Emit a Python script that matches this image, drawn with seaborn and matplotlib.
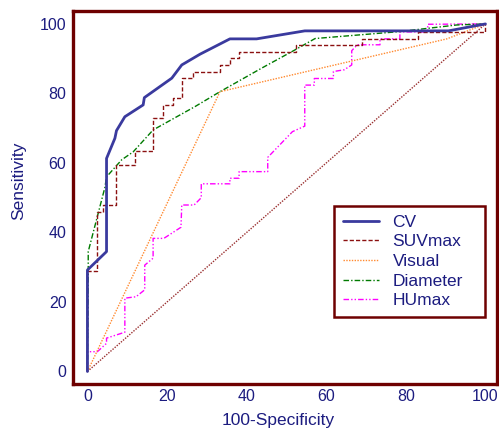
import matplotlib
matplotlib.use("Agg")
import matplotlib.pyplot as plt
import seaborn as sns
import pandas as pd

# ---- data ----
cv_x = [0, 0, 4.8, 4.8, 6.9, 7.3, 9.4, 14.0, 14.3, 21.2, 23.7, 28.3, 35.8, 42.5, 54.6, 90.7, 100]
cv_y = [0, 29.2, 34.5, 61.3, 67.1, 69.3, 73.3, 76.7, 78.8, 84.4, 88.2, 91.3, 95.7, 95.7, 98.0, 98.0, 100]

suv_x = [0, 0, 2.5, 2.5, 4.0, 4.0, 7.3, 7.3, 11.9, 11.9, 16.5, 16.5, 18.9, 18.9, 21.4, 21.4,
         23.7, 23.7, 26.4, 26.4, 33.3, 33.3, 35.8, 35.8, 38.1, 38.1, 52.5, 52.5, 68.9, 68.9,
         83.1, 83.1, 100, 100]
suv_y = [0, 28.9, 28.9, 46.0, 46.0, 47.9, 47.9, 59.4, 59.4, 63.3, 63.3, 72.9, 72.9, 76.7, 76.7, 78.8,
         78.8, 84.4, 84.4, 86.3, 86.3, 88.2, 88.2, 90.3, 90.3, 92.0, 92.0, 94.0, 94.0, 95.7,
         95.7, 97.7, 97.7, 100]

vis_x = [0, 33.3, 90.3, 100]
vis_y = [0, 80.5, 95.7, 100]

dia_x = [0, 0.2, 0.2, 4.4, 4.8, 8.6, 11.5, 16.5, 27.0, 33.3, 43.8, 52.1, 57.2, 78.5, 86.0, 92.8, 100]
dia_y = [0, 29.2, 34.5, 53.0, 56.0, 60.9, 63.2, 69.5, 76.2, 80.5, 87.3, 92.5, 95.8, 97.8, 98.8, 99.7, 100]

hu_x = [0, 0, 2.5, 4.8, 4.8, 9.4, 9.4, 12.2, 14.4, 14.4, 16.5, 16.5, 19.2, 23.5, 23.7, 26.8,
        28.6, 28.6, 35.8, 35.8, 38.1, 38.1, 45.3, 45.3, 51.5, 54.6, 54.6, 57.0, 57.0, 61.8,
        61.8, 64.5, 66.4, 66.4, 67.8, 73.5, 73.5, 78.5, 78.5, 85.5, 85.5, 100]
hu_y = [0, 5.7, 5.7, 8.1, 9.6, 11.3, 21.1, 21.5, 23.5, 30.6, 32.6, 38.3, 38.3, 41.5, 47.9, 47.9,
        50.0, 54.0, 54.0, 55.6, 55.6, 57.5, 57.5, 61.6, 69.0, 70.6, 82.4, 82.4, 84.3, 84.3,
        86.3, 86.8, 88.2, 92.3, 94.0, 94.0, 95.7, 95.7, 97.7, 97.7, 99.9, 100]

ref_x = [0, 100]
ref_y = [0, 100]

series_names = ["CV", "SUVmax", "Visual", "Diameter", "HUmax"]
x_ticks = [0, 20, 40, 60, 80, 100]
y_ticks = [0, 20, 40, 60, 80, 100]

# ---- styling ----
sns.set_style("white")
plt.rcParams["font.family"] = ["Liberation Sans", "DejaVu Sans"]

spine_col = "#6e0000"
text_col = "#1c1c80"

fig = plt.figure(figsize=(4.99, 4.34), dpi=100)
ax = fig.add_axes([0.1457, 0.1152, 0.8503, 0.8601])

styles = {
    "CV":       dict(color="#3a3a9e", lw=2.0, ls="-"),
    "SUVmax":   dict(color="#8b1010", lw=1.0, ls=(0, (3, 1.5))),
    "Visual":   dict(color="#ff8a30", lw=1.0, ls=(0, (1, 1))),
    "Diameter": dict(color="#007a00", lw=1.0, ls=(0, (4, 1.5, 1, 1.5))),
    "HUmax":    dict(color="#ff00ff", lw=1.0, ls=(0, (4, 1.5, 1, 1.5, 1, 1.5))),
}
data = {
    "CV": (cv_x, cv_y),
    "SUVmax": (suv_x, suv_y),
    "Visual": (vis_x, vis_y),
    "Diameter": (dia_x, dia_y),
    "HUmax": (hu_x, hu_y),
}

# reference diagonal
sns.lineplot(x=ref_x, y=ref_y, ax=ax, color="#9a3030", lw=1.0, linestyle=(0, (1, 1)),
             sort=False, estimator=None)

for name in reversed(series_names):
    xs, ys = data[name]
    st = styles[name]
    df = pd.DataFrame({"x": xs, "y": ys})
    sns.lineplot(data=df, x="x", y="y", ax=ax, color=st["color"], lw=st["lw"],
                 linestyle=st["ls"], sort=False, estimator=None, label=name)

ax.set_xlim(-3.7, 102.9)
ax.set_ylim(-3.6, 103.8)
ax.set_xticks(x_ticks)
ax.set_yticks(y_ticks)
ax.set_xticks(range(0, 101, 5), minor=True)
ax.set_yticks(range(0, 101, 5), minor=True)

for sp in ax.spines.values():
    sp.set_color(spine_col)
    sp.set_linewidth(2.4)
    sp.set_visible(True)

ax.tick_params(axis="x", which="major", direction="in", length=8, width=2.2,
               color=spine_col, labelcolor=text_col, labelsize=11.5, pad=3.5)
ax.tick_params(axis="x", which="minor", direction="in", length=3.6, width=1.2,
               color=spine_col)
ax.tick_params(axis="y", which="major", direction="in", length=10, width=2.2,
               color=spine_col, labelcolor=text_col, labelsize=11.5, pad=4.5)
ax.tick_params(axis="y", which="minor", direction="in", length=5.3, width=1.2,
               color=spine_col)

ax.set_xlabel("100-Specificity", color=text_col, fontsize=12.5)
ax.set_ylabel("Sensitivity", color=text_col, fontsize=12.5)
ax.xaxis.set_label_coords(0.484, -0.078)
ax.yaxis.set_label_coords(-0.110, 0.544)

handles, labels = ax.get_legend_handles_labels()
order = [labels.index(n) for n in series_names]
handles = [handles[i] for i in order]
labels = [labels[i] for i in order]
leg = ax.legend(handles, labels, loc="upper left", bbox_to_anchor=(0.616, 0.0, 0.356, 0.477),
                mode="expand", borderaxespad=0, fontsize=12.5, labelspacing=0.26,
                handlelength=2.07, handletextpad=0.8, borderpad=0.5,
                fancybox=False, framealpha=1, edgecolor=spine_col, facecolor="white")
leg.get_frame().set_linewidth(1.8)
for t in leg.get_texts():
    t.set_color(text_col)

fig.savefig("out.png", dpi=100)
